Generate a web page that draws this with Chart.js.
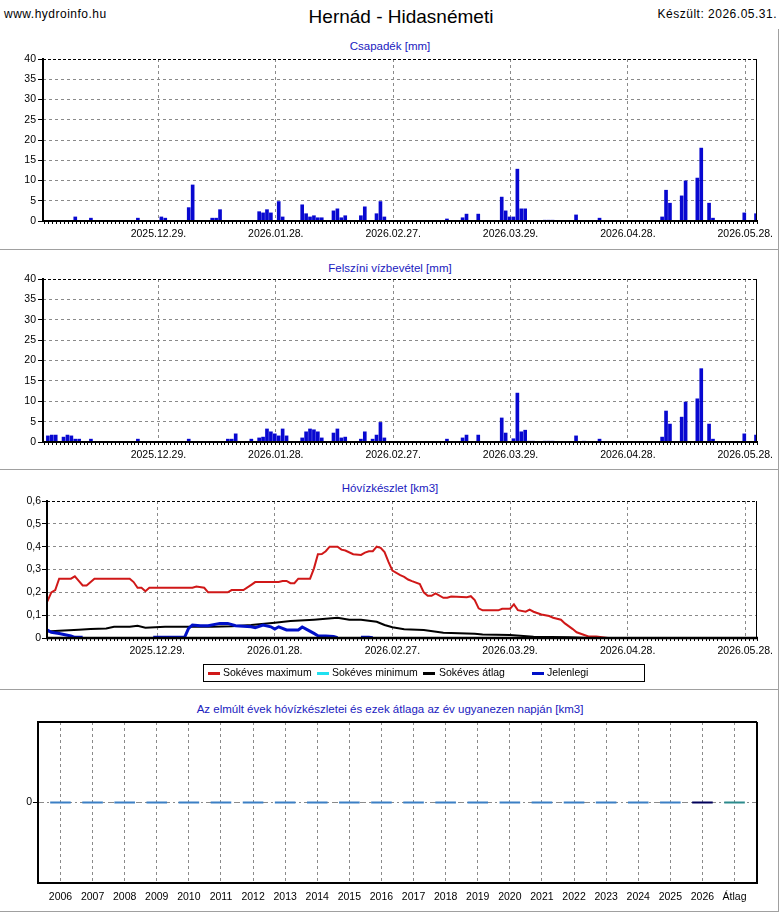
<!DOCTYPE html>
<html lang="hu">
<head>
<meta charset="UTF-8">
<title>Hernád - Hidasnémeti</title>
<script src="https://cdn.jsdelivr.net/npm/chart.js"></script>
<style>
  body { margin: 0; background: #fff; font-family: "Liberation Sans", Arial, sans-serif; color: #000; }
  #page { position: relative; width: 780px; height: 913px; overflow: hidden; }
  canvas { position: absolute; left: 0; }
  .txt { position: absolute; white-space: nowrap; }
  .hdr { top: 7px; font-size: 12px; line-height: 14px; letter-spacing: 0.5px; }
  .title { top: 6px; left: 401px; transform: translateX(-50%); font-size: 19px; line-height: 22px; }
  .ptitle { left: 390px; transform: translateX(-50%); font-size: 11.5px; line-height: 14px; color: #2020c0; }
  .sep { position: absolute; background: #a0a0a0; z-index: 2; }
  #legend { position: absolute; left: 203px; top: 664px; width: 440px; height: 16px; border: 1px solid #000; z-index: 2; }
  #legend .sw { position: absolute; top: 7px; width: 12px; height: 3px; }
  #legend .lt { position: absolute; top: 1px; font-size: 10.5px; line-height: 13px; white-space: nowrap; }
</style>
</head>
<body>
<div id="page">
  <div class="txt hdr" style="left:4px">www.hydroinfo.hu</div>
  <div class="txt title">Hernád - Hidasnémeti</div>
  <div class="txt hdr" style="right:3px">Készült: 2026.05.31.</div>

  <div class="txt ptitle" style="top:39px">Csapadék [mm]</div>
  <div class="txt ptitle" style="top:261px">Felszíni vízbevétel [mm]</div>
  <div class="txt ptitle" style="top:481px">Hóvízkészlet [km3]</div>
  <div class="txt ptitle" style="top:702px">Az elmúlt évek hóvízkészletei és ezek átlaga az év ugyanezen napján [km3]</div>

  <canvas id="rain" width="780" height="220" style="top:30px"></canvas>
  <canvas id="surface" width="780" height="220" style="top:250px"></canvas>
  <canvas id="snow" width="780" height="220" style="top:470px"></canvas>
  <canvas id="years" width="780" height="223" style="top:690px"></canvas>

  <div id="legend">
    <div class="sw" style="left:4px;background:#d01818"></div><div class="lt" style="left:19px">Sokéves maximum</div>
    <div class="sw" style="left:113px;background:#20e0f0"></div><div class="lt" style="left:128px">Sokéves minimum</div>
    <div class="sw" style="left:219px;background:#000"></div><div class="lt" style="left:235px">Sokéves átlag</div>
    <div class="sw" style="left:328px;background:#0010c8"></div><div class="lt" style="left:343px">Jelenlegi</div>
  </div>

  <div class="sep" style="left:0;top:249px;width:779px;height:1px"></div>
  <div class="sep" style="left:0;top:469px;width:779px;height:1px"></div>
  <div class="sep" style="left:0;top:689px;width:779px;height:1px"></div>
  <div class="sep" style="left:0;top:911px;width:779px;height:1px"></div>
  <div class="sep" style="left:778px;top:29px;width:1px;height:883px"></div>
</div>

<script>
// napok 2025.12.29.-tol szamolva
const dayTicks = [0, 30, 60, 90, 120, 150];
const dayLabels = ['2025.12.29.', '2026.01.28.', '2026.02.27.', '2026.03.29.', '2026.04.28.', '2026.05.28.'];

// Csapadék [mm]
const rainDays = [-22, -18, -6, 0, 1, 7, 8, 13, 14, 15, 25, 26, 27, 28, 30, 31, 36, 37, 38, 39,
  40, 41, 44, 45, 46, 47, 51, 52, 55, 56, 57, 73, 77, 78, 81, 87, 88, 89, 90, 91,
  92, 93, 98, 99, 100, 106, 112, 128, 129, 130, 133, 134, 137, 138, 140, 141, 149, 152];
const rainVals = [1.0, 0.7, 0.7, 1.0, 0.7, 3.3, 8.9, 0.7, 0.7, 2.8, 2.3, 2.0, 2.8, 2.0, 4.8, 1.0, 4.0, 1.8, 1.0, 1.3,
  0.8, 0.8, 2.5, 3.0, 0.8, 1.3, 1.3, 3.5, 1.8, 4.8, 1.0, 0.5, 0.8, 1.7, 1.7, 5.9, 2.5, 1.0, 1.0, 12.8,
  3.0, 3.0, 0.2, 0.2, 0.2, 1.5, 0.7, 1.0, 7.6, 4.4, 6.2, 9.9, 10.6, 18.0, 4.4, 0.7, 2.0, 1.8];

// Felszíni vízbevétel [mm]
const surfDays = [-29, -28, -27, -25, -24, -23, -22, -21, -18, -6, 7, 17, 18, 19, 23, 25, 26, 27, 28, 29,
  30, 31, 32, 36, 37, 38, 39, 40, 41, 44, 45, 46, 47, 51, 52, 54, 55, 56, 57, 73,
  77, 78, 81, 87, 88, 90, 91, 92, 93, 94, 95, 98, 99, 100, 106, 108, 112, 128, 129, 130,
  133, 134, 137, 138, 140, 141, 149, 152];
const surfVals = [1.5, 1.7, 1.7, 1.2, 1.7, 1.5, 0.7, 0.7, 0.7, 0.7, 0.7, 0.7, 0.7, 2.0, 0.7, 1.0, 1.2, 3.2, 2.5, 2.0,
  1.5, 3.2, 1.5, 1.0, 2.5, 3.2, 3.0, 2.5, 1.0, 2.2, 3.2, 1.0, 1.2, 0.7, 2.5, 0.7, 1.7, 4.8, 1.0, 0.7,
  1.0, 1.7, 1.7, 5.9, 2.2, 0.8, 12.0, 2.5, 2.9, 0.2, 0.2, 0.2, 0.2, 0.2, 1.5, 0.2, 0.7, 1.2, 7.6, 4.4,
  6.1, 9.8, 10.6, 18.0, 4.4, 0.7, 2.0, 1.7];

const mmTicks = [0, 2.5, 5, 7.5, 10, 12.5, 15, 17.5, 20, 22.5, 25, 27.5, 30, 32.5, 35, 37.5, 40];

// Hóvízkészlet [km3]
const maxDays = [-28, -27, -26, -25, -22, -21, -20, -19, -18, -16, -7, -6, -5, -4, -3, -2, 9, 10, 12, 13,
  18, 19, 22, 24, 25, 31, 32, 33, 34, 35, 36, 39, 40, 41, 42, 43, 44, 46, 47, 48,
  50, 52, 53, 54, 55, 56, 57, 58, 59, 60, 62, 63, 64, 65, 67, 68, 69, 70, 71, 73,
  74, 75, 79, 80, 81, 82, 83, 87, 88, 90, 91, 92, 94, 95, 96, 98, 100, 101, 103, 104,
  106, 107, 110, 112, 115];
const maxVals = [0.16, 0.20, 0.21, 0.26, 0.26, 0.27, 0.25, 0.23, 0.23, 0.26, 0.26, 0.245, 0.22, 0.22, 0.205, 0.22, 0.22, 0.225, 0.22, 0.20,
  0.20, 0.21, 0.21, 0.233, 0.245, 0.245, 0.25, 0.25, 0.24, 0.24, 0.26, 0.26, 0.305, 0.367, 0.368, 0.38, 0.40, 0.40, 0.387, 0.383,
  0.367, 0.364, 0.374, 0.38, 0.38, 0.40, 0.395, 0.376, 0.333, 0.295, 0.275, 0.268, 0.256, 0.249, 0.236, 0.20, 0.185, 0.185, 0.195, 0.176,
  0.176, 0.182, 0.179, 0.183, 0.166, 0.13, 0.121, 0.121, 0.128, 0.128, 0.147, 0.122, 0.115, 0.124, 0.115, 0.103, 0.096, 0.089, 0.080, 0.064,
  0.039, 0.025, 0.007, 0.007, 0];

const minDays = [-28, 153];
const minVals = [0, 0];

const avgDays = [-28, -25, -20, -17, -13, -11, -7, -5, -3, 2, 8, 14, 19, 24, 30, 34, 40, 43, 46, 49,
  52, 56, 58, 60, 63, 68, 73, 81, 83, 90, 96, 105, 110];
const avgVals = [0.028, 0.032, 0.036, 0.039, 0.042, 0.049, 0.049, 0.054, 0.045, 0.049, 0.049, 0.049, 0.052, 0.057, 0.067, 0.074, 0.080, 0.084, 0.089, 0.080,
  0.080, 0.071, 0.057, 0.047, 0.038, 0.035, 0.023, 0.019, 0.015, 0.013, 0.006, 0.003, 0];

// null: a készlet nulla, a vonal a tengely alatt van
const nowDays = [-28, -27, -25, -22, -21, -19, -18, -1, 7, 8, 9, 11, 13, 16, 18, 20, 24, 25, 27,
  29, 30, 31, 33, 36, 37, 38, 40, 41, 43, 45, 46, 47, 52, 53, 54, 55];
const nowVals = [0.035, 0.025, 0.020, 0.009, 0.003, 0.003, null, 0.003, 0.003, 0.042, 0.057, 0.054, 0.054, 0.064, 0.064, 0.054, 0.049, 0.045, 0.057,
  0.049, 0.039, 0.049, 0.035, 0.035, 0.048, 0.039, 0.020, 0.010, 0.009, 0.007, 0.001, null, 0.003, 0.003, 0.003, 0.001];

const km3Ticks = [0, 0.1, 0.2, 0.3, 0.4, 0.5, 0.6];
const km3Labels = ['0', '0,1', '0,2', '0,3', '0,4', '0,5', '0,6'];

// Az elmúlt évek hóvízkészletei
const yearLabels = ['2006', '2007', '2008', '2009', '2010', '2011', '2012', '2013', '2014', '2015', '2016',
  '2017', '2018', '2019', '2020', '2021', '2022', '2023', '2024', '2025', '2026', 'Átlag'];
const yearVals = [0, 0, 0, 0, 0, 0, 0, 0, 0, 0, 0, 0, 0, 0, 0, 0, 0, 0, 0, 0, 0, 0];

const GRID = '#8a8a8a';
const BAR = '#0808d0';
const BAR_SHIFT = 0.75; // a napi oszlop a nap vegere esik

Chart.defaults.font.family = '"Liberation Sans", Arial, sans-serif';
Chart.defaults.font.size = 10.5;
Chart.defaults.color = '#000';
Chart.defaults.animation = false;
Chart.defaults.events = [];
Chart.defaults.plugins.legend.display = false;
Chart.defaults.plugins.tooltip.enabled = false;

const frame = {
  id: 'frame',
  afterDatasetsDraw(chart, args, o) {
    const { ctx, chartArea: a } = chart;
    const l = Math.round(a.left), r = Math.round(a.right), t = Math.round(a.top), b = Math.round(a.bottom);
    const h = o.thin % 2 ? 0.5 : 0;
    ctx.save();
    ctx.strokeStyle = '#000';
    const seg = (x1, y1, x2, y2) => { ctx.beginPath(); ctx.moveTo(x1, y1); ctx.lineTo(x2, y2); ctx.stroke(); };
    ctx.lineWidth = o.thin;
    ctx.setLineDash(o.topDash);
    seg(l, t + h, r, t + h);
    ctx.setLineDash([]);
    seg(r - h, t, r - h, b);
    ctx.lineWidth = 2;
    seg(l, t - 1, l, b + 1);
    ctx.lineWidth = o.bottom || 2;
    seg(l - 1, b, r + 1, b);
    ctx.restore();
  }
};

function dayAxis(min, height) {
  return {
    type: 'linear', min: min, max: 153, offset: false,
    afterBuildTicks: ax => {
      const t = [];
      for (let d = Math.ceil(ax.min); d <= ax.max; d++) t.push({ value: d });
      ax.ticks = t;
    },
    afterFit: ax => { ax.height = height; },
    ticks: {
      autoSkip: false, maxRotation: 0, padding: 4,
      callback: v => { const i = dayTicks.indexOf(v); return i < 0 ? '' : dayLabels[i]; }
    },
    grid: {
      offset: false, tickLength: 3, tickColor: '#000',
      color: c => dayTicks.includes(c.tick.value) ? GRID : 'transparent'
    },
    border: { display: false, dash: [3, 3] }
  };
}

function mmAxis(width) {
  return {
    min: 0, max: 40,
    afterBuildTicks: ax => { ax.ticks = mmTicks.map(v => ({ value: v })); },
    afterFit: ax => { ax.width = width; },
    ticks: { padding: 2, callback: v => (v % 5 === 0 ? String(v) : '') },
    grid: {
      tickLength: 5, tickColor: '#000',
      color: c => (c.tick.value % 5 === 0 && c.tick.value > 0 && c.tick.value < 40) ? GRID : 'transparent'
    },
    border: { display: false, dash: [3, 3] }
  };
}

function barChart(id, days, vals, xHeight) {
  new Chart(document.getElementById(id), {
    type: 'bar',
    data: {
      datasets: [{
        data: days.map((d, i) => ({ x: d + BAR_SHIFT, y: vals[i] })),
        backgroundColor: BAR, borderWidth: 0, barThickness: 3
      }]
    },
    options: {
      responsive: false,
      layout: { padding: { top: 29, right: 23, left: 0, bottom: 0 } },
      scales: { x: dayAxis(-29.5, xHeight), y: mmAxis(43) },
      plugins: { frame: { thin: 1, topDash: [3, 2] } }
    },
    plugins: [frame]
  });
}

barChart('rain', rainDays, rainVals, 29);
barChart('surface', surfDays, surfVals, 28);

const pts = (days, vals) => days.map((d, i) => ({ x: d, y: vals[i] }));

new Chart(document.getElementById('snow'), {
  type: 'line',
  data: {
    datasets: [
      { label: 'Jelenlegi', data: pts(nowDays, nowVals), borderColor: '#0010c8', borderWidth: 3, spanGaps: false },
      { label: 'Sokéves átlag', data: pts(avgDays, avgVals), borderColor: '#000', borderWidth: 2 },
      { label: 'Sokéves minimum', data: pts(minDays, minVals), borderColor: '#20e0f0', borderWidth: 1 },
      { label: 'Sokéves maximum', data: pts(maxDays, maxVals), borderColor: '#d01818', borderWidth: 2 }
    ]
  },
  options: {
    responsive: false,
    elements: { point: { radius: 0 }, line: { tension: 0 } },
    layout: { padding: { top: 31, right: 23, left: 0, bottom: 0 } },
    scales: {
      x: dayAxis(-28.1, 52),
      y: {
        min: 0, max: 0.6,
        afterBuildTicks: ax => { ax.ticks = km3Ticks.map(v => ({ value: v })); },
        afterFit: ax => { ax.width = 47; },
        ticks: { padding: 1, callback: (v, i) => km3Labels[i] },
        grid: {
          tickLength: 5, tickColor: '#000',
          color: c => (c.tick.value > 0.05 && c.tick.value < 0.55) ? GRID : 'transparent'
        },
        border: { display: false, dash: [3, 3] }
      }
    },
    plugins: { frame: { thin: 1, topDash: [3, 2], bottom: 2.5 } }
  },
  plugins: [frame]
});

const PAST = '#3b7fc4', NOW = '#00005a', AVG = '#2b8a8c';

new Chart(document.getElementById('years'), {
  type: 'scatter',
  data: {
    datasets: [{
      data: yearVals.map((v, i) => ({ x: i, y: v })),
      pointStyle: 'line', pointRadius: 10.3, borderWidth: 2,
      pointBorderColor: yearLabels.map(l => (l === '2026' ? NOW : l === 'Átlag' ? AVG : PAST))
    }]
  },
  options: {
    responsive: false,
    layout: { padding: { top: 32, right: 23, left: 0, bottom: 0 } },
    scales: {
      x: {
        type: 'linear', min: -0.7, max: 21.7, offset: false,
        afterBuildTicks: ax => { ax.ticks = yearLabels.map((l, i) => ({ value: i })); },
        afterFit: ax => { ax.height = 30; },
        ticks: { autoSkip: false, maxRotation: 0, padding: 4, callback: (v, i) => yearLabels[i] },
        grid: { offset: false, tickLength: 4, tickColor: 'transparent', color: GRID },
        border: { display: false, dash: [3, 3] }
      },
      y: {
        min: -1, max: 1,
        afterBuildTicks: ax => { ax.ticks = [{ value: 0 }]; },
        afterFit: ax => { ax.width = 38; },
        ticks: { padding: 1, callback: v => String(v) },
        grid: { tickLength: 5, tickColor: '#000', color: GRID },
        border: { display: false, dash: [6, 3, 2, 3] }
      }
    },
    plugins: { frame: { thin: 2, topDash: [] } }
  },
  plugins: [frame]
});
</script>
</body>
</html>
